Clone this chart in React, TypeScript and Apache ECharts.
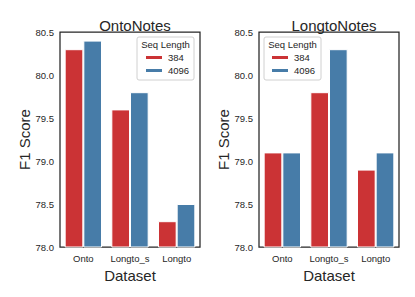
import React, { useEffect, useRef } from "react";
import * as echarts from "echarts";

const categories = ["Onto", "Longto_s", "Longto"];
const seqLengths = ["384", "4096"];
const ontoNotes384 = [80.3, 79.6, 78.3];
const ontoNotes4096 = [80.4, 79.8, 78.5];
const longtoNotes384 = [79.1, 79.8, 78.9];
const longtoNotes4096 = [79.1, 80.3, 79.1];
const panelTitles = ["OntoNotes", "LongtoNotes"];
const yTicks = { min: 78, max: 80.5, interval: 0.5 };

const RED = "#cb3335";
const BLUE = "#477ca8";
const TXT = "#262626";
const FONT = "'Liberation Sans', Arial, sans-serif";

export default function App() {
  const ref = useRef<HTMLDivElement>(null);
  useEffect(() => {
    document.body.style.margin = "0";
    const chart = echarts.init(ref.current!, undefined, { renderer: "svg" });
    const grids = [
      { left: 60, right: 215, top: 32, bottom: 50 },
      { left: 259, right: 16, top: 32, bottom: 50 },
    ];
    const xAxes = grids.map((_, i) => ({
      type: "category",
      gridIndex: i,
      data: categories,
      name: "Dataset",
      nameLocation: "middle",
      nameGap: 17,
      nameTextStyle: { fontSize: 15, color: TXT, fontFamily: FONT },
      axisLine: { show: false },
      axisTick: { show: false },
      axisLabel: { fontSize: 9.5, color: TXT, fontFamily: FONT, margin: 6, interval: 0 },
    }));
    const yAxes = grids.map((_, i) => ({
      type: "value",
      gridIndex: i,
      min: yTicks.min,
      max: yTicks.max,
      interval: yTicks.interval,
      name: "F1 Score",
      nameLocation: "middle",
      nameGap: 27,
      nameTextStyle: { fontSize: 15, color: TXT, fontFamily: FONT },
      axisLine: { show: false },
      axisTick: { show: false },
      splitLine: { show: false },
      axisLabel: {
        fontSize: 9.5,
        color: TXT,
        fontFamily: FONT,
        margin: 6,
        formatter: (v: number) => v.toFixed(1),
      },
    }));
    const mk = (name: string, data: number[], idx: number, color: string) => ({
      type: "bar",
      name,
      data,
      xAxisIndex: idx,
      yAxisIndex: idx,
      barGap: "0%",
      barCategoryGap: "20%",
      itemStyle: { color, borderColor: "#ffffff", borderWidth: 1 },
    });
    const legendBoxes = [
      { x: 137, titleX: 165.5, legendLeft: 144 },
      { x: 264, titleX: 292.5, legendLeft: 270 },
    ];
    chart.setOption({
      animation: false,
      backgroundColor: "#ffffff",
      textStyle: { fontFamily: FONT },
      title: panelTitles.map((t, i) => ({
        text: t,
        left: i === 0 ? 130 : 329,
        top: 13,
        textAlign: "center",
        textStyle: { fontSize: 15, fontWeight: "normal", color: TXT, fontFamily: FONT },
      })),
      grid: grids.map((g) => ({
        ...g,
        show: true,
        borderColor: TXT,
        borderWidth: 1.25,
        backgroundColor: "transparent",
      })),
      xAxis: xAxes,
      yAxis: yAxes,
      legend: legendBoxes.map((b) => ({
        data: seqLengths,
        orient: "vertical",
        left: b.legendLeft,
        top: 52,
        padding: 0,
        itemWidth: 18,
        itemHeight: 5,
        itemGap: 2,
        icon: "rect",
        textStyle: { fontSize: 9.5, color: TXT, fontFamily: FONT, lineHeight: 11 },
        selectedMode: false,
      })),
      graphic: legendBoxes.flatMap((b) => [
        {
          type: "rect",
          shape: { x: b.x, y: 37, width: 57, height: 43, r: 2 },
          style: { fill: "rgba(255,255,255,0.8)", stroke: "#d0d0d0", lineWidth: 1 },
          z: 0,
        },
        {
          type: "text",
          x: b.titleX,
          y: 44,
          style: {
            text: "Seq Length",
            fontSize: 9.5,
            fill: TXT,
            fontFamily: FONT,
            align: "center",
            verticalAlign: "middle",
          },
        },
      ]),
      series: [
        mk(seqLengths[0], ontoNotes384, 0, RED),
        mk(seqLengths[1], ontoNotes4096, 0, BLUE),
        mk(seqLengths[0], longtoNotes384, 1, RED),
        mk(seqLengths[1], longtoNotes4096, 1, BLUE),
      ],
      color: [RED, BLUE],
    });
    return () => chart.dispose();
  }, []);
  return <div ref={ref} style={{ width: 415, height: 297 }} />;
}
